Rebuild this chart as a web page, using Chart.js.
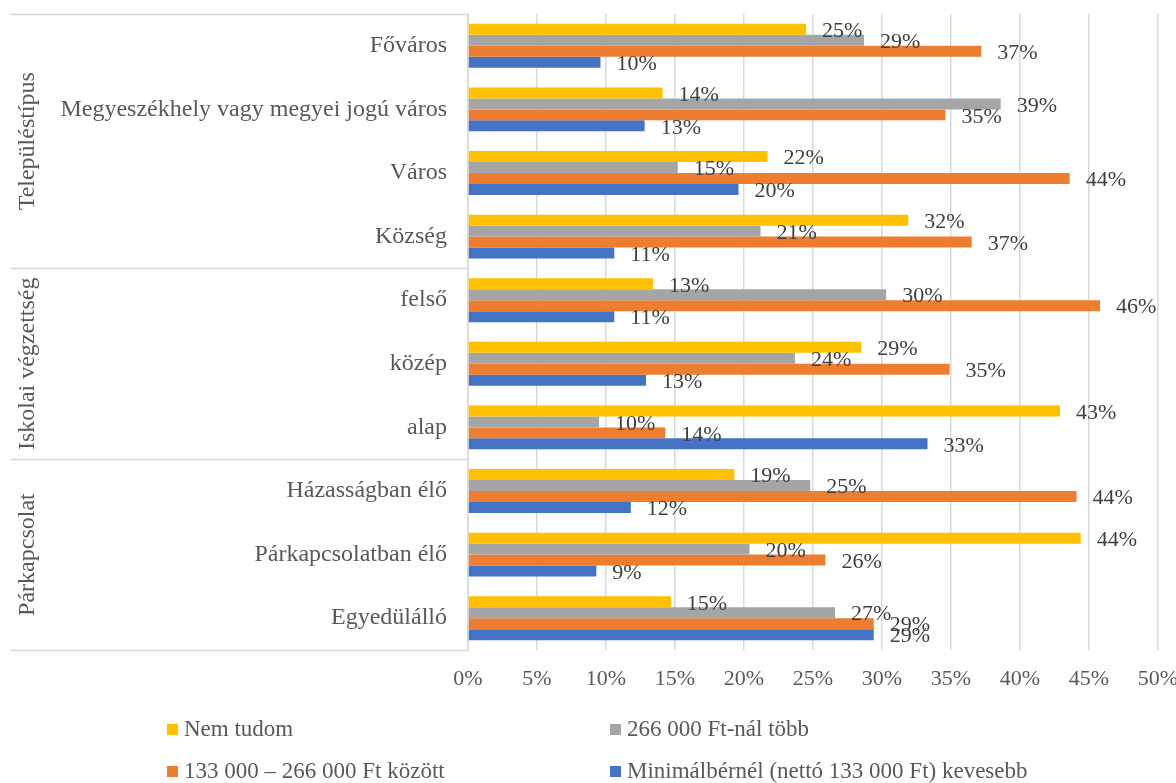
<!DOCTYPE html>
<html>
<head>
    <title>Jövedelem kategóriák</title>
    <script src="https://cdn.jsdelivr.net/npm/chart.js"></script>
    <style>
        body { margin: 0; background: #fff; }
        .chart-container { width: 1176px; height: 783px; }
    </style>
</head>
<body>
    <div class="chart-container">
        <canvas id="barChart" width="1176" height="783"></canvas>
    </div>

    <script>
        // adatok
        const categories = [
            'Főváros', 'Megyeszékhely vagy megyei jogú város', 'Város', 'Község',
            'felső', 'közép', 'alap',
            'Házasságban élő', 'Párkapcsolatban élő', 'Egyedülálló'
        ];
        const groups = [
            { label: 'Településtípus', from: 0, to: 3 },
            { label: 'Iskolai végzettség', from: 4, to: 6 },
            { label: 'Párkapcsolat', from: 7, to: 9 }
        ];
        const seriesNames = [
            'Nem tudom',
            '266 000 Ft-nál több',
            '133 000 – 266 000 Ft között',
            'Minimálbérnél (nettó 133 000 Ft) kevesebb'
        ];
        const nemTudom   = [24.5, 14.1, 21.7, 31.9, 13.4, 28.5, 42.9, 19.3, 44.4, 14.7];
        const tobbMint   = [28.7, 38.6, 15.2, 21.2, 30.3, 23.7,  9.5, 24.8, 20.4, 26.6];
        const kozott     = [37.2, 34.6, 43.6, 36.5, 45.8, 34.9, 14.3, 44.1, 25.9, 29.4];
        const kevesebb   = [ 9.6, 12.8, 19.6, 10.6, 10.6, 12.9, 33.3, 11.8,  9.3, 29.4];
        const xTicks = [0, 5, 10, 15, 20, 25, 30, 35, 40, 45, 50];

        const colors = ['#FFC000', '#A5A5A5', '#ED7D31', '#4472C4'];
        const serif = '"Liberation Serif", "Times New Roman", serif';
        const lineColor = '#d9d9d9';

        // csoportcímkék és elválasztó vonalak
        const groupPlugin = {
            id: 'groupPlugin',
            afterDraw(chart) {
                const c = chart.ctx, area = chart.chartArea, y = chart.scales.y;
                const edge = i => {
                    if (i < 0) return area.top;
                    if (i >= categories.length - 1) return area.bottom;
                    return (y.getPixelForValue(i) + y.getPixelForValue(i + 1)) / 2;
                };
                c.save();
                c.strokeStyle = lineColor;
                c.lineWidth = 1.5;
                const lines = [area.top];
                groups.forEach(g => lines.push(edge(g.to)));
                lines.forEach(py => {
                    c.beginPath();
                    c.moveTo(10, Math.round(py) + 0.5);
                    c.lineTo(area.left, Math.round(py) + 0.5);
                    c.stroke();
                });
                c.fillStyle = '#595959';
                c.font = '24px ' + serif;
                c.textAlign = 'center';
                c.textBaseline = 'middle';
                groups.forEach(g => {
                    const mid = (edge(g.from - 1) + edge(g.to)) / 2;
                    c.save();
                    c.translate(28, mid);
                    c.rotate(-Math.PI / 2);
                    c.fillText(g.label, 0, 0);
                    c.restore();
                });
                c.restore();
            }
        };

        // értékcímkék
        const valueLabels = {
            id: 'valueLabels',
            afterDatasetsDraw(chart) {
                const c = chart.ctx;
                c.save();
                c.fillStyle = '#404040';
                c.font = '22px ' + serif;
                c.textAlign = 'left';
                c.textBaseline = 'middle';
                chart.data.datasets.forEach((ds, di) => {
                    chart.getDatasetMeta(di).data.forEach((bar, i) => {
                        c.fillText(Math.round(ds.data[i]) + '%', bar.x + 16, bar.y + 2);
                    });
                });
                c.restore();
            }
        };

        // jelmagyarázat két oszlopban
        const legend2col = {
            id: 'legend2col',
            afterDraw(chart) {
                const c = chart.ctx;
                const cols = [167, 610];
                const rows = [729, 771];
                c.save();
                c.font = '23px ' + serif;
                c.textBaseline = 'middle';
                chart.data.datasets.forEach((ds, i) => {
                    const x = cols[i % 2], y = rows[Math.floor(i / 2)];
                    c.fillStyle = ds.backgroundColor;
                    c.fillRect(x, y - 5, 11, 11);
                    c.fillStyle = '#595959';
                    c.fillText(ds.label, x + 17, y + 1);
                });
                c.restore();
            }
        };

        const ctx = document.getElementById('barChart').getContext('2d');
        const chart = new Chart(ctx, {
            type: 'bar',
            data: {
                labels: categories,
                datasets: [nemTudom, tobbMint, kozott, kevesebb].map((d, i) => ({
                    label: seriesNames[i],
                    data: d,
                    backgroundColor: colors[i],
                    borderWidth: 0,
                    categoryPercentage: 0.69,
                    barPercentage: 1.0
                }))
            },
            plugins: [groupPlugin, valueLabels, legend2col],
            options: {
                indexAxis: 'y',
                responsive: false,
                animation: false,
                layout: { padding: { top: 14, right: 18, bottom: 83, left: 0 } },
                plugins: {
                    legend: { display: false },
                    tooltip: { enabled: false }
                },
                scales: {
                    x: {
                        min: 0,
                        max: 50,
                        afterBuildTicks: s => { s.ticks = xTicks.map(v => ({ value: v })); },
                        afterFit: s => {
                            s.height = 50;
                            s.paddingLeft = 0;
                            s.paddingRight = 0;
                        },
                        grid: { color: lineColor, lineWidth: 1.5, drawTicks: false },
                        border: { display: false },
                        ticks: {
                            padding: 16,
                            color: '#595959',
                            font: { family: serif, size: 22 },
                            callback: v => v + '%'
                        }
                    },
                    y: {
                        afterFit: s => {
                            s.width = 468;
                            s.paddingTop = 0;
                            s.paddingBottom = 0;
                        },
                        grid: { display: false, drawTicks: false },
                        border: { display: true, color: lineColor, width: 1.5 },
                        ticks: {
                            autoSkip: false,
                            padding: 21,
                            color: '#595959',
                            font: { family: serif, size: 24 }
                        }
                    }
                }
            }
        });
    </script>
</body>
</html>
